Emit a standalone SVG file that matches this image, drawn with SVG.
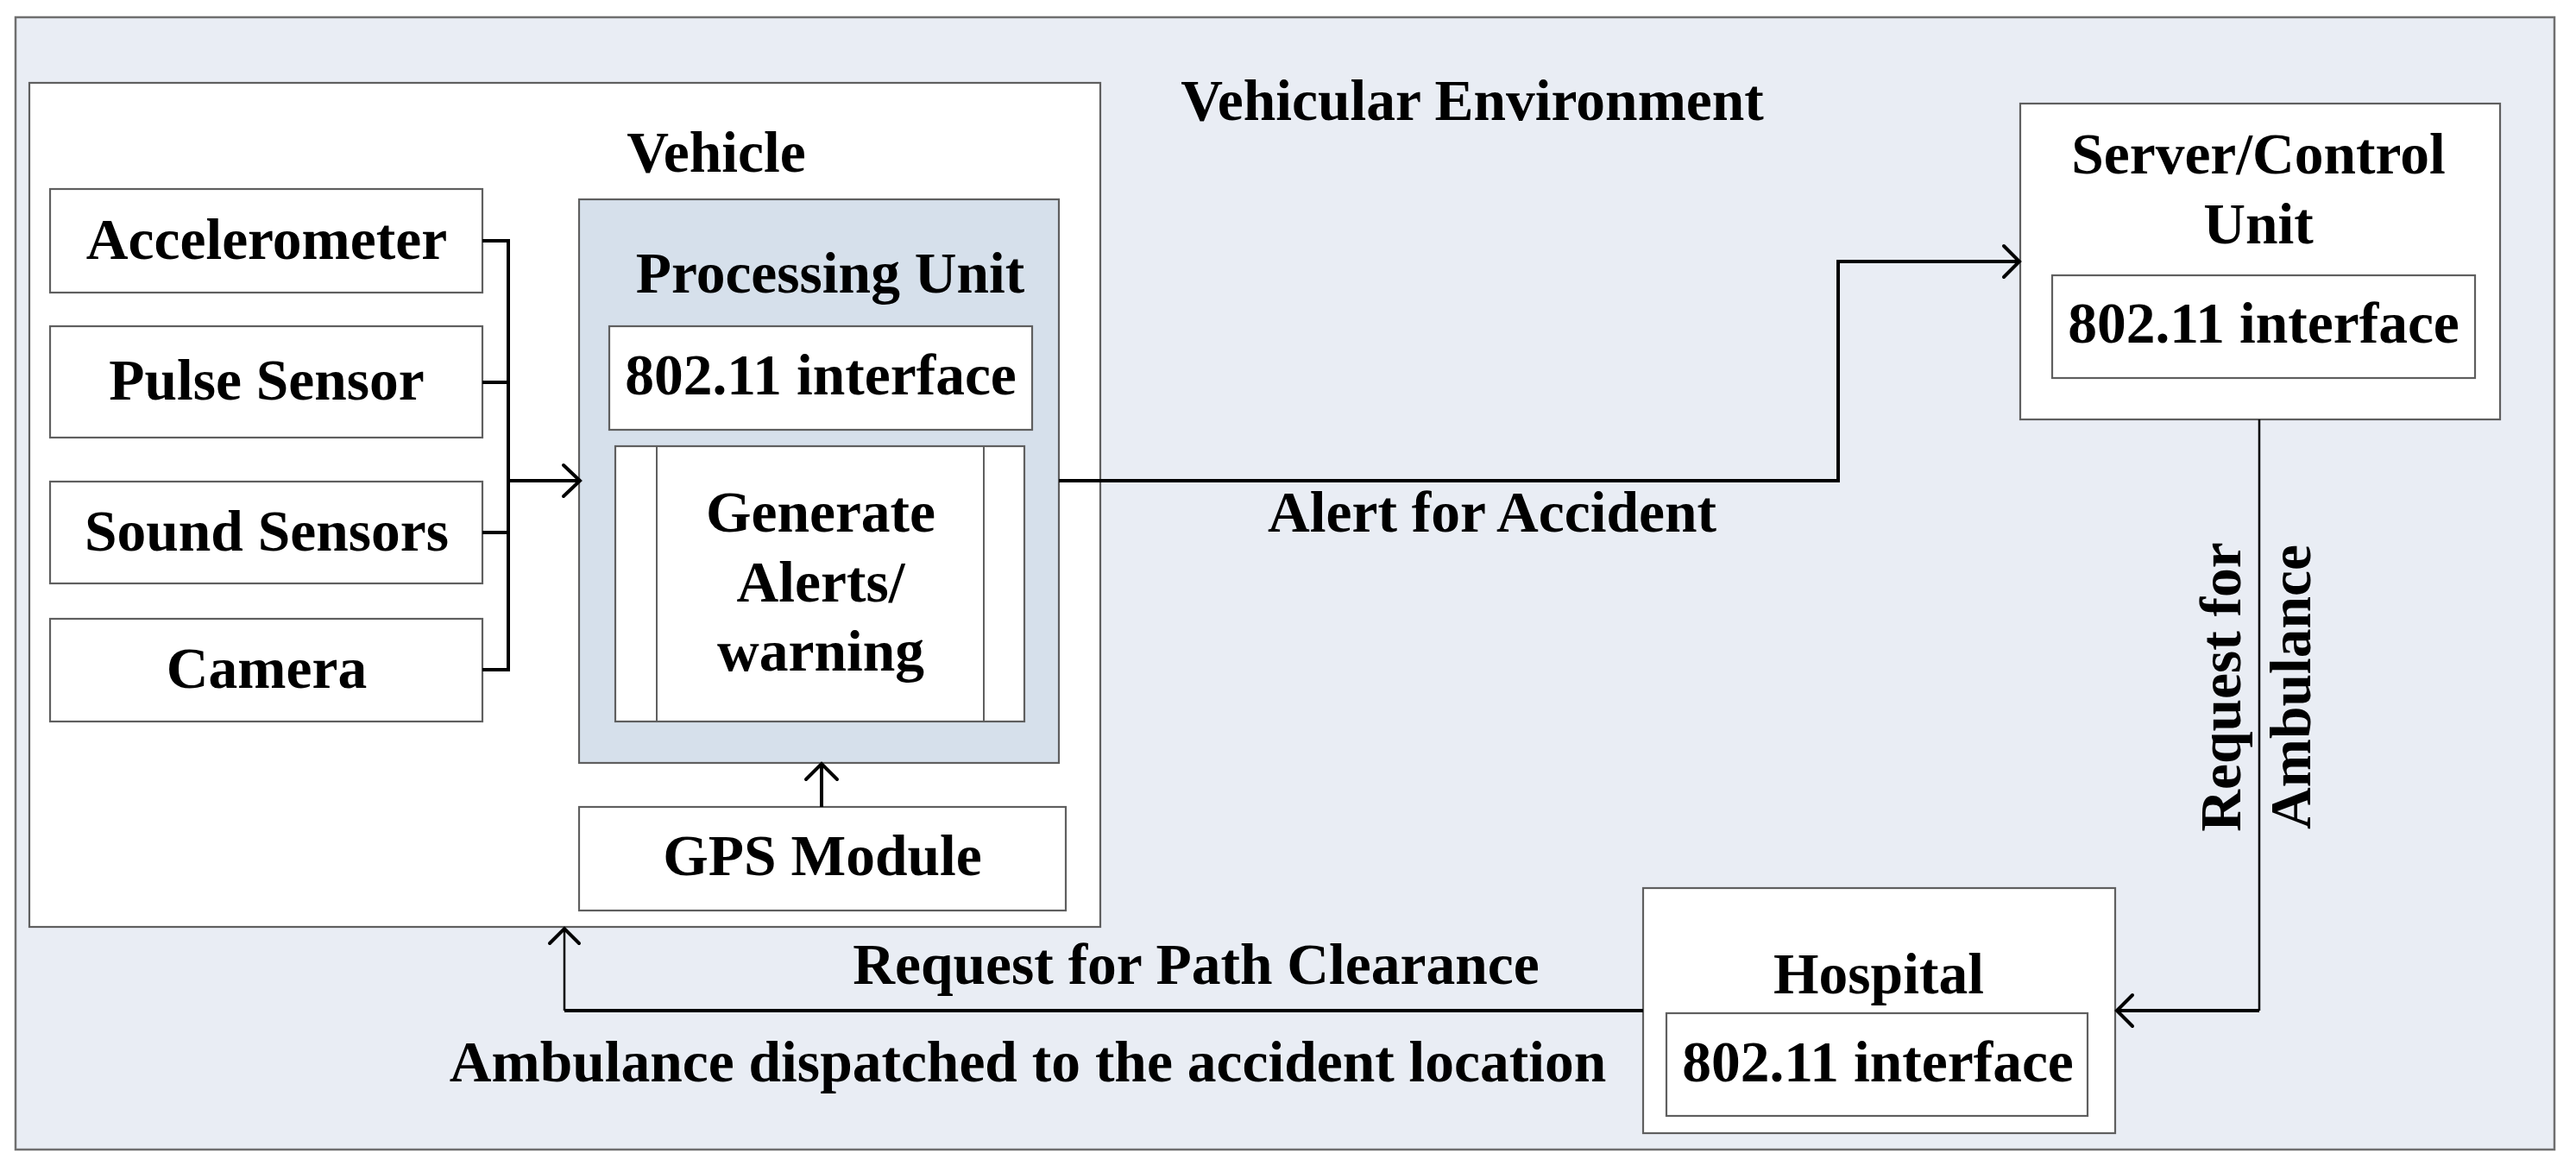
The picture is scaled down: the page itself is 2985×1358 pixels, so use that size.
<svg xmlns="http://www.w3.org/2000/svg" width="2985" height="1358" viewBox="0 0 2985 1358">
<defs>
<style>
.t{font-family:"Liberation Serif","Times New Roman",serif;font-weight:bold;font-size:67.5px;fill:#000;text-anchor:middle}
.box{fill:#fff;stroke:#5f5f5f;stroke-width:2.2}
.pu{fill:#d6e0eb;stroke:#5f5f5f;stroke-width:2.2}
.env{fill:#e9edf4;stroke:#6f6f6f;stroke-width:2.5}
.c{fill:none;stroke:#000;stroke-width:4;stroke-linejoin:miter}
.cthin{fill:none;stroke:#000;stroke-width:2.5}
.ah{fill:none;stroke:#000;stroke-width:4;stroke-linecap:round;stroke-linejoin:miter}
</style>
</defs>
<rect width="2985" height="1358" fill="#fff"/>
<g id="environment">
<rect class="env" x="18" y="20" width="2942" height="1312"/>
<text class="t" x="1706" y="139">Vehicular Environment</text>
</g>
<g id="vehicle">
<rect class="box" x="34" y="96" width="1241" height="978"/>
<text class="t" x="830" y="199">Vehicle</text>
</g>
<g id="accelerometer">
<rect class="box" x="58" y="219" width="501" height="120"/>
<text class="t" x="309" y="300">Accelerometer</text>
</g>
<g id="pulse-sensor">
<rect class="box" x="58" y="378" width="501" height="129"/>
<text class="t" x="309" y="463">Pulse Sensor</text>
</g>
<g id="sound-sensors">
<rect class="box" x="58" y="558" width="501" height="118"/>
<text class="t" x="309" y="638">Sound Sensors</text>
</g>
<g id="camera">
<rect class="box" x="58" y="717" width="501" height="119"/>
<text class="t" x="309" y="797">Camera</text>
</g>
<g id="processing-unit">
<rect class="pu" x="671" y="231" width="556" height="653"/>
<text class="t" x="962" y="339">Processing Unit</text>
</g>
<g id="vehicle-interface">
<rect class="box" x="706" y="378" width="490" height="120"/>
<text class="t" x="951" y="457">802.11 interface</text>
</g>
<g id="generate-alerts">
<rect class="box" x="713" y="517" width="474" height="319"/>
<line x1="761" y1="517" x2="761" y2="836" stroke="#5f5f5f" stroke-width="2"/>
<line x1="1140" y1="517" x2="1140" y2="836" stroke="#5f5f5f" stroke-width="2"/>
<text class="t" x="951" y="616">Generate</text>
<text class="t" x="951" y="697">Alerts/</text>
<text class="t" x="951" y="777">warning</text>
</g>
<g id="gps-module">
<rect class="box" x="671" y="935" width="564" height="120"/>
<text class="t" x="953" y="1014">GPS Module</text>
</g>
<g id="server">
<rect class="box" x="2341" y="120" width="556" height="366"/>
<text class="t" x="2617" y="201">Server/Control</text>
<text class="t" x="2617" y="282">Unit</text>
</g>
<g id="server-interface">
<rect class="box" x="2378" y="319" width="490" height="119"/>
<text class="t" x="2623" y="397">802.11 interface</text>
</g>
<g id="hospital">
<rect class="box" x="1904" y="1029" width="547" height="284"/>
<text class="t" x="2177" y="1151">Hospital</text>
</g>
<g id="hospital-interface">
<rect class="box" x="1931" y="1174" width="488" height="119"/>
<text class="t" x="2176" y="1253">802.11 interface</text>
</g>
<g id="connectors">
<path class="c" d="M559 279 H589 V776 H559 M559 443 H589 M559 617 H589 M589 557 H671"/>
<path class="ah" d="M653 539 L672 557 L653 575"/>
<path class="c" stroke-width="3" d="M952 935 V886"/>
<path class="ah" d="M934 903 L952 885 L970 903"/>
<path class="c" d="M1227 557 H2130 V303 H2339"/>
<path class="ah" d="M2322 285 L2340 303 L2322 321"/>
<path class="cthin" d="M2618 486 V1171"/>
<path class="c" d="M2618 1171 H2453"/>
<path class="ah" d="M2471 1153 L2453 1171 L2471 1189"/>
<path class="c" d="M1904 1171 H654"/>
<path class="cthin" d="M654 1171 V1076"/>
<path class="ah" d="M637 1093 L654 1076 L671 1093"/>
<text class="t" x="1729" y="616">Alert for Accident</text>
<text class="t" x="1386" y="1140">Request for Path Clearance</text>
<text class="t" x="1191" y="1253">Ambulance dispatched to the accident location</text>
<text class="t" transform="translate(2596,796) rotate(-90)">Request for</text>
<text class="t" transform="translate(2677,796) rotate(-90)">Ambulance</text>
</g>
</svg>
